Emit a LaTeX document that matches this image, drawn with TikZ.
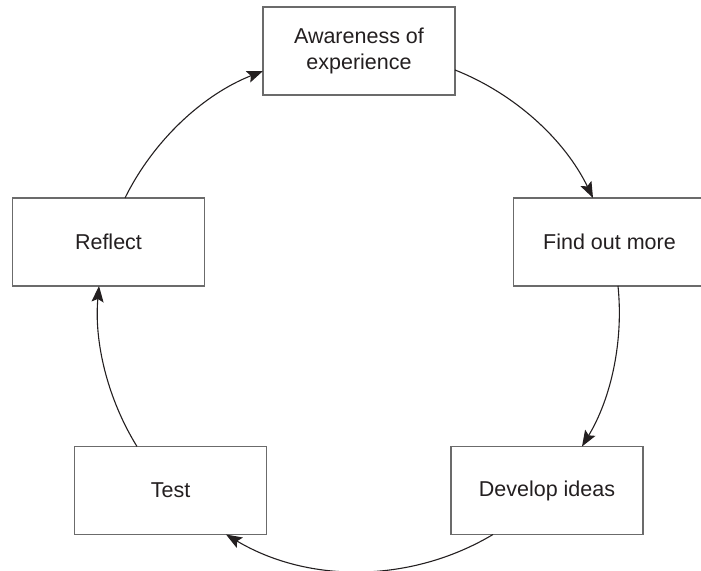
\documentclass[tikz,border=0pt]{standalone}
\usepackage{fontspec}
\setmainfont{Liberation Sans}
\usetikzlibrary{arrows.meta,calc}
\definecolor{boxline}{HTML}{6B6B6B}
\definecolor{ink}{HTML}{231F20}
\begin{document}
\begin{tikzpicture}[x=0.5pt,y=0.5pt,
  stage/.style={draw=boxline, line width=0.85pt, fill=white, text=ink,
    minimum width=96pt, minimum height=44pt, inner sep=0pt, outer sep=0pt,
    align=center, font=\fontsize{10.75}{13}\selectfont},
  flow/.style={draw=ink, line width=0.55pt,
    -{Stealth[length=8pt,width=6pt,inset=1.5pt]}}]
\useasboundingbox (0,0) rectangle (701,571);

% the five stages of the cycle
\node[stage] (aware)   at (359,520)   {Awareness of\\experience};
\node[stage] (reflect) at (108.5,329) {Reflect};
\node[stage] (find)    at (609.5,329) {Find out more};
\node[stage] (develop) at (547,80.5)  {Develop ideas};
\node[stage] (test)    at (170.5,80.5){Test};

% circular arrows linking the stages clockwise
\draw[flow] ($(reflect.north)+(16.5,0)$) to[bend left=21.1, looseness=0.88] ($(aware.west)+(0,-20)$);
\draw[flow] ($(aware.east)+(0,-19)$) to[bend left=21.2, looseness=0.88] ($(find.north)+(-16.5,0)$);
\draw[flow] ($(find.south)+(8.5,0)$) to[bend left=18.5, looseness=0.87] ($(develop.north)+(35,0)$);
\draw[flow] ($(develop.south)+(-54,0)$) to[bend left=30.8, looseness=0.92] ($(test.south)+(55.5,0)$);
\draw[flow] ($(test.north)+(-33.5,0)$) to[bend left=18.5, looseness=0.87] ($(reflect.south)+(-9.5,0)$);
\end{tikzpicture}
\end{document}
